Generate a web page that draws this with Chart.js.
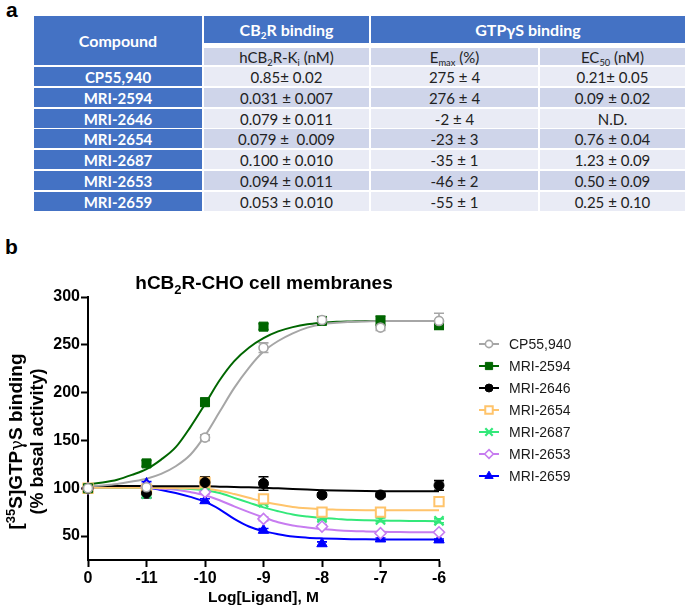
<!DOCTYPE html>
<html>
<head>
<meta charset="utf-8">
<script src="https://cdn.jsdelivr.net/npm/chart.js@4.4.1/dist/chart.umd.min.js"></script>
<style>
  body { margin: 0; width: 685px; height: 614px; position: relative; overflow: hidden; background: #fff; font-family: Lato, "Open Sans", sans-serif; }
  .panel { position: absolute; font: bold 21px "Liberation Sans", Arial, sans-serif; line-height: 1; }
  .cell { position: absolute; display: flex; align-items: center; justify-content: center; white-space: pre; font-size: 15px; color: #222; }
  .hd { background: #4472c4; color: #fff; font-weight: bold; font-size: 16px; }
  .nm { background: #4472c4; color: #fff; font-weight: bold; }
  .dk { background: #cfd5ea; }
  .lt { background: #e9ebf5; }
  sub { font-size: 0.62em; vertical-align: -0.35em; line-height: 0; }
  #chartBox { position: absolute; left: 0; top: 250px; width: 685px; height: 364px; }
</style>
</head>
<body>
<div class="panel" style="left:6px; top:-1px;">a</div>
<div class="panel" style="left:5px; top:236px;">b</div>
<div id="table"></div>
<div id="chartBox"><canvas id="gtpChart" width="685" height="364"></canvas></div>

<script>
// --- TABLE DATA ---
const compounds = ["CP55,940", "MRI-2594", "MRI-2646", "MRI-2654", "MRI-2687", "MRI-2653", "MRI-2659"];
const kiValues = ["0.85\u00b1 0.02", "0.031 \u00b1 0.007", "0.079 \u00b1 0.011", "0.079 \u00b1  0.009", "0.100 \u00b1 0.010", "0.094 \u00b1 0.011", "0.053 \u00b1 0.010"];
const emaxValues = ["275 \u00b1 4", "276 \u00b1 4", "-2 \u00b1 4", "-23 \u00b1 3", "-35 \u00b1 1", "-46 \u00b1 2", "-55 \u00b1 1"];
const ec50Values = ["0.21\u00b1 0.05", "0.09 \u00b1 0.02", "N.D.", "0.76 \u00b1 0.04", "1.23 \u00b1 0.09", "0.50 \u00b1 0.09", "0.25 \u00b1 0.10"];

// --- CHART DATA ---
const logDose = [-12, -11, -10, -9, -8, -7, -6]; // -12 is the vehicle point, shown as "0"
const xTickLabels = ["0", "-11", "-10", "-9", "-8", "-7", "-6"];
// fitted curves, read every 0.25 log unit from -12 to -6
const fitDose = [-12, -11.75, -11.5, -11.25, -11, -10.75, -10.5, -10.25, -10, -9.75, -9.5, -9.25, -9,
                 -8.75, -8.5, -8.25, -8, -7.75, -7.5, -7.25, -7, -6.75, -6.5, -6.25, -6];

const cp55940    = [100, 101, 153, 247, 276, 268, 275];
const cp55940Err = [0, 2, 3, 5, 3, 3, 8];
const cp55940Fit = [102, 103, 104.5, 107, 110, 115, 123, 135, 155, 180, 205, 226, 243,
                    254, 262, 268, 271.5, 273, 274, 274.5, 275, 275, 275, 275, 275];

const mri2594    = [100, 126, 190, 269, 275, 275, 271];
const mri2594Err = [0, 3, 4, 3, 3, 5, 5];
const mri2594Fit = [104, 106, 109, 114, 120, 130, 143, 164, 188, 213, 233, 247, 257,
                    264, 268.5, 271.5, 273, 274, 274.5, 275, 275, 275, 275, 275, 275];

const mri2646    = [100, 95, 106, 105, 93, 93, 103];
const mri2646Err = [0, 5, 6, 7, 2, 2, 5];
const mri2646Fit = [102.4, 102.4, 102.3, 102.3, 102.2, 102.2, 102.1, 102, 102, 101.7, 101.3, 101, 100.5,
                    99.9, 99.3, 98.6, 98, 97.6, 97.3, 97.1, 97, 97, 97, 97, 97];

const mri2654    = [100, 99, 106, 89, 75, 75, 86];
const mri2654Err = [0, 2, 3, 2, 2, 2, 2];
const mri2654Fit = [100.5, 100.5, 100.5, 100.5, 100.5, 100.4, 100.2, 100, 99.4, 97.5, 94, 90, 86,
                    83, 80.5, 79, 78, 77.6, 77.3, 77.1, 77, 77, 77, 77, 77];

const mri2687    = [100, 94, 103, 85, 69, 67, 66];
const mri2687Err = [0, 2, 2, 2, 2, 2, 2];
const mri2687Fit = [100.7, 100.7, 100.6, 100.5, 100.5, 100.3, 100, 99.2, 98, 95, 90, 85, 80,
                    76, 72.6, 70.5, 69, 68, 67, 66.5, 66.2, 66, 65.8, 65.7, 65.6];

const mri2653    = [100, 101, 96, 68, 60, 53, 54];
const mri2653Err = [0, 1, 2, 2, 2, 1, 1];
const mri2653Fit = [100.7, 100.7, 100.6, 100.6, 100.5, 99.6, 98.4, 96, 92.7, 87.5, 81, 75, 69.5,
                    64.5, 61, 59, 57.3, 56.2, 55.4, 54.9, 54.5, 54.3, 54.1, 54, 54];

const mri2659    = [100, 105, 87, 56, 42, 47, 46];
const mri2659Err = [0, 2, 2, 2, 2, 1, 1];
const mri2659Fit = [100.7, 100.7, 100.6, 100.6, 100.5, 98.2, 95, 91, 86, 78, 68, 60, 55.2,
                    52, 49.5, 48.3, 47.6, 47.1, 46.8, 46.6, 46.5, 46.5, 46.5, 46.5, 46.5];

const means = [cp55940, mri2594, mri2646, mri2654, mri2687, mri2653, mri2659];
const errors = [cp55940Err, mri2594Err, mri2646Err, mri2654Err, mri2687Err, mri2653Err, mri2659Err];
const fits = [cp55940Fit, mri2594Fit, mri2646Fit, mri2654Fit, mri2687Fit, mri2653Fit, mri2659Fit];

// marker look for each compound
const styles = [
    { color: "#a6a6a6", point: "circle",   radius: 4.5, filled: false, bw: 1.6 },
    { color: "#006600", point: "rect",     radius: 6.4, filled: true,  bw: 1 },
    { color: "#000000", point: "circle",   radius: 5,   filled: true,  bw: 1 },
    { color: "#ffc46b", point: "rect",     radius: 6.6, filled: false, bw: 2 },
    { color: "#33e87a", point: "crossRot", radius: 6.5, filled: false, bw: 2.2 },
    { color: "#c77cf0", point: "rectRot",  radius: 5.5, filled: false, bw: 1.6 },
    { color: "#0000ff", point: "triangle", radius: 6,   filled: true,  bw: 1 }
];

// --- 1. BUILD TABLE ---
function buildTable() {
    const box = document.getElementById("table");
    const cols = [[34, 202], [204, 369], [371, 538], [540, 685]];
    function cell(x0, x1, y0, y1, cls, html) {
        const d = document.createElement("div");
        d.className = "cell " + cls;
        d.style.left = x0 + "px";
        d.style.top = y0 + "px";
        d.style.width = (x1 - x0) + "px";
        d.style.height = (y1 - y0) + "px";
        d.innerHTML = "<span>" + html + "</span>"; // one flex item, so <sub> stays inline
        box.appendChild(d);
    }
    cell(cols[0][0], cols[0][1], 16, 65, "hd", "Compound");
    cell(cols[1][0], cols[1][1], 16, 43, "hd", "CB<sub>2</sub>R binding");
    cell(cols[2][0], cols[3][1], 16, 43, "hd", "GTP\u03b3S binding");
    cell(cols[1][0], cols[1][1], 48, 65, "dk", "hCB<sub>2</sub>R-K<sub>i</sub> (nM)");
    cell(cols[2][0], cols[2][1], 48, 65, "dk", "E<sub>max</sub> (%)");
    cell(cols[3][0], cols[3][1], 48, 65, "dk", "EC<sub>50</sub> (nM)");

    compounds.forEach((name, i) => {
        const top = Math.round(67 + i * 20.75);
        const shade = i % 2 === 0 ? "lt" : "dk";
        cell(cols[0][0], cols[0][1], top, top + 19, "nm", name);
        cell(cols[1][0], cols[1][1], top, top + 19, shade, kiValues[i]);
        cell(cols[2][0], cols[2][1], top, top + 19, shade, emaxValues[i]);
        cell(cols[3][0], cols[3][1], top, top + 19, shade, ec50Values[i]);
    });
}

// --- 2. CHART HELPERS ---
const ARIAL = "'Liberation Sans', Arial, sans-serif";

function marker(ctx, st, x, y, r) {
    ctx.save();
    ctx.strokeStyle = st.color;
    ctx.fillStyle = st.filled ? st.color : "#ffffff";
    ctx.lineWidth = st.bw;
    if (Chart.helpers && Chart.helpers.drawPoint) {
        Chart.helpers.drawPoint(ctx, { pointStyle: st.point, radius: r, rotation: 0, borderWidth: st.bw }, x, y);
    } else {
        ctx.beginPath();
        ctx.arc(x, y, r, 0, Math.PI * 2);
        ctx.fill();
        ctx.stroke();
    }
    ctx.restore();
}

// text with sub/superscript pieces, centred on (x, y)
function richText(ctx, parts, x, y) {
    let total = 0;
    parts.forEach(p => { ctx.font = p.font; p.w = ctx.measureText(p.t).width; total += p.w; });
    let cx = x - total / 2;
    ctx.textAlign = "left";
    parts.forEach(p => {
        ctx.font = p.font;
        ctx.fillText(p.t, cx, y + (p.dy || 0));
        cx += p.w;
    });
}

const errorBars = {
    id: "errorBars",
    beforeDatasetsDraw(chart) {
        const ctx = chart.ctx;
        const xs = chart.scales.x, ys = chart.scales.y;
        chart.data.datasets.forEach(ds => {
            if (!ds.errors) return;
            ctx.save();
            ctx.strokeStyle = ds.borderColor;
            ctx.lineWidth = 1.6;
            ds.data.forEach((p, i) => {
                const e = ds.errors[i];
                if (!e) return;
                const px = xs.getPixelForValue(p.x);
                const top = ys.getPixelForValue(p.y + e);
                const bot = ys.getPixelForValue(p.y - e);
                ctx.beginPath();
                ctx.moveTo(px, top); ctx.lineTo(px, bot);
                ctx.moveTo(px - 5, top); ctx.lineTo(px + 5, top);
                ctx.moveTo(px - 5, bot); ctx.lineTo(px + 5, bot);
                ctx.stroke();
            });
            ctx.restore();
        });
    }
};

const annotations = {
    id: "annotations",
    afterDraw(chart) {
        const ctx = chart.ctx;
        ctx.save();
        ctx.fillStyle = "#000";
        ctx.textBaseline = "alphabetic";
        // chart title
        richText(ctx, [
            { t: "hCB", font: "bold 19px " + ARIAL },
            { t: "2", font: "bold 13px " + ARIAL, dy: 5 },
            { t: "R-CHO cell membranes", font: "bold 19px " + ARIAL }
        ], 264, 39);

        // y axis title, two rotated lines
        const midY = (chart.chartArea.top + chart.chartArea.bottom) / 2 + 13;
        ctx.textBaseline = "middle";
        [[17, [
            { t: "[", font: "bold 19px " + ARIAL },
            { t: "35", font: "bold 13px " + ARIAL, dy: -6 },
            { t: "S]GTP", font: "bold 19px " + ARIAL },
            { t: "\u03b3", font: "18px 'DejaVu Serif', serif", dy: 1 },
            { t: "S binding", font: "bold 19px " + ARIAL }
        ]], [38, [
            { t: "(% basal activity)", font: "bold 18px " + ARIAL }
        ]]].forEach(([lx, parts]) => {
            ctx.save();
            ctx.translate(lx, midY);
            ctx.rotate(-Math.PI / 2);
            richText(ctx, parts, 0, 0);
            ctx.restore();
        });

        // legend: short line with marker, then name
        styles.forEach((st, i) => {
            const y = 94 + i * 22;
            ctx.strokeStyle = st.color;
            ctx.lineWidth = 2;
            ctx.beginPath();
            ctx.moveTo(479, y); ctx.lineTo(499, y);
            ctx.stroke();
            marker(ctx, st, 489, y, st.radius * 0.8);
            ctx.fillStyle = "#1a1a1a";
            ctx.font = "14px " + ARIAL;
            ctx.textAlign = "left";
            ctx.textBaseline = "middle";
            ctx.fillText(compounds[i], 509, y + 1);
        });
        ctx.restore();
    }
};

// --- 3. DRAW CHART ---
function initChart() {
    const datasets = [];
    compounds.forEach((name, i) => {
        const st = styles[i];
        datasets.push({
            label: name + " fit",
            data: fitDose.map((x, k) => ({ x: x, y: fits[i][k] })),
            showLine: true,
            borderColor: st.color,
            borderWidth: 2,
            pointRadius: 0,
            cubicInterpolationMode: "monotone",
            order: 2
        });
    });
    compounds.forEach((name, i) => {
        const st = styles[i];
        datasets.push({
            label: name,
            data: logDose.map((x, k) => ({ x: x, y: means[i][k] })),
            errors: errors[i],
            showLine: false,
            borderColor: st.color,
            backgroundColor: st.filled ? st.color : "#ffffff",
            pointStyle: st.point,
            pointRadius: st.radius,
            pointBorderWidth: st.bw,
            clip: false,
            order: 1
        });
    });

    const tickFont = { family: ARIAL, size: 16, weight: "bold" };

    new Chart(document.getElementById("gtpChart"), {
        type: "scatter",
        data: { datasets: datasets },
        options: {
            responsive: false,
            animation: false,
            layout: { padding: { left: 0, top: 47, right: 246, bottom: 0 } },
            plugins: { legend: { display: false }, tooltip: { enabled: false } },
            scales: {
                x: {
                    type: "linear", min: -12, max: -6,
                    ticks: { stepSize: 1, autoSkip: false, maxRotation: 0, padding: 2, color: "#000", font: tickFont,
                             callback: (v, i) => xTickLabels[i] },
                    grid: { display: true, drawOnChartArea: false, drawTicks: true, tickLength: 7, tickWidth: 2, color: "#000" },
                    border: { display: true, color: "#000", width: 2 },
                    title: { display: true, text: "Log[Ligand], M", color: "#000",
                             font: { family: ARIAL, size: 15.5, weight: "bold" }, padding: { top: 0, bottom: 7 } },
                    afterFit: s => { s.height = 54; }
                },
                y: {
                    min: 25, max: 300,
                    ticks: { stepSize: 50, includeBounds: false, padding: 1, color: "#000", font: tickFont },
                    grid: { display: true, drawOnChartArea: false, drawTicks: true, tickLength: 7, tickWidth: 2, color: "#000" },
                    border: { display: true, color: "#000", width: 2 },
                    afterFit: s => { s.width = 88; }
                }
            }
        },
        plugins: [errorBars, annotations]
    });
}

window.onload = function() {
    buildTable();
    initChart();
};
</script>
</body>
</html>
